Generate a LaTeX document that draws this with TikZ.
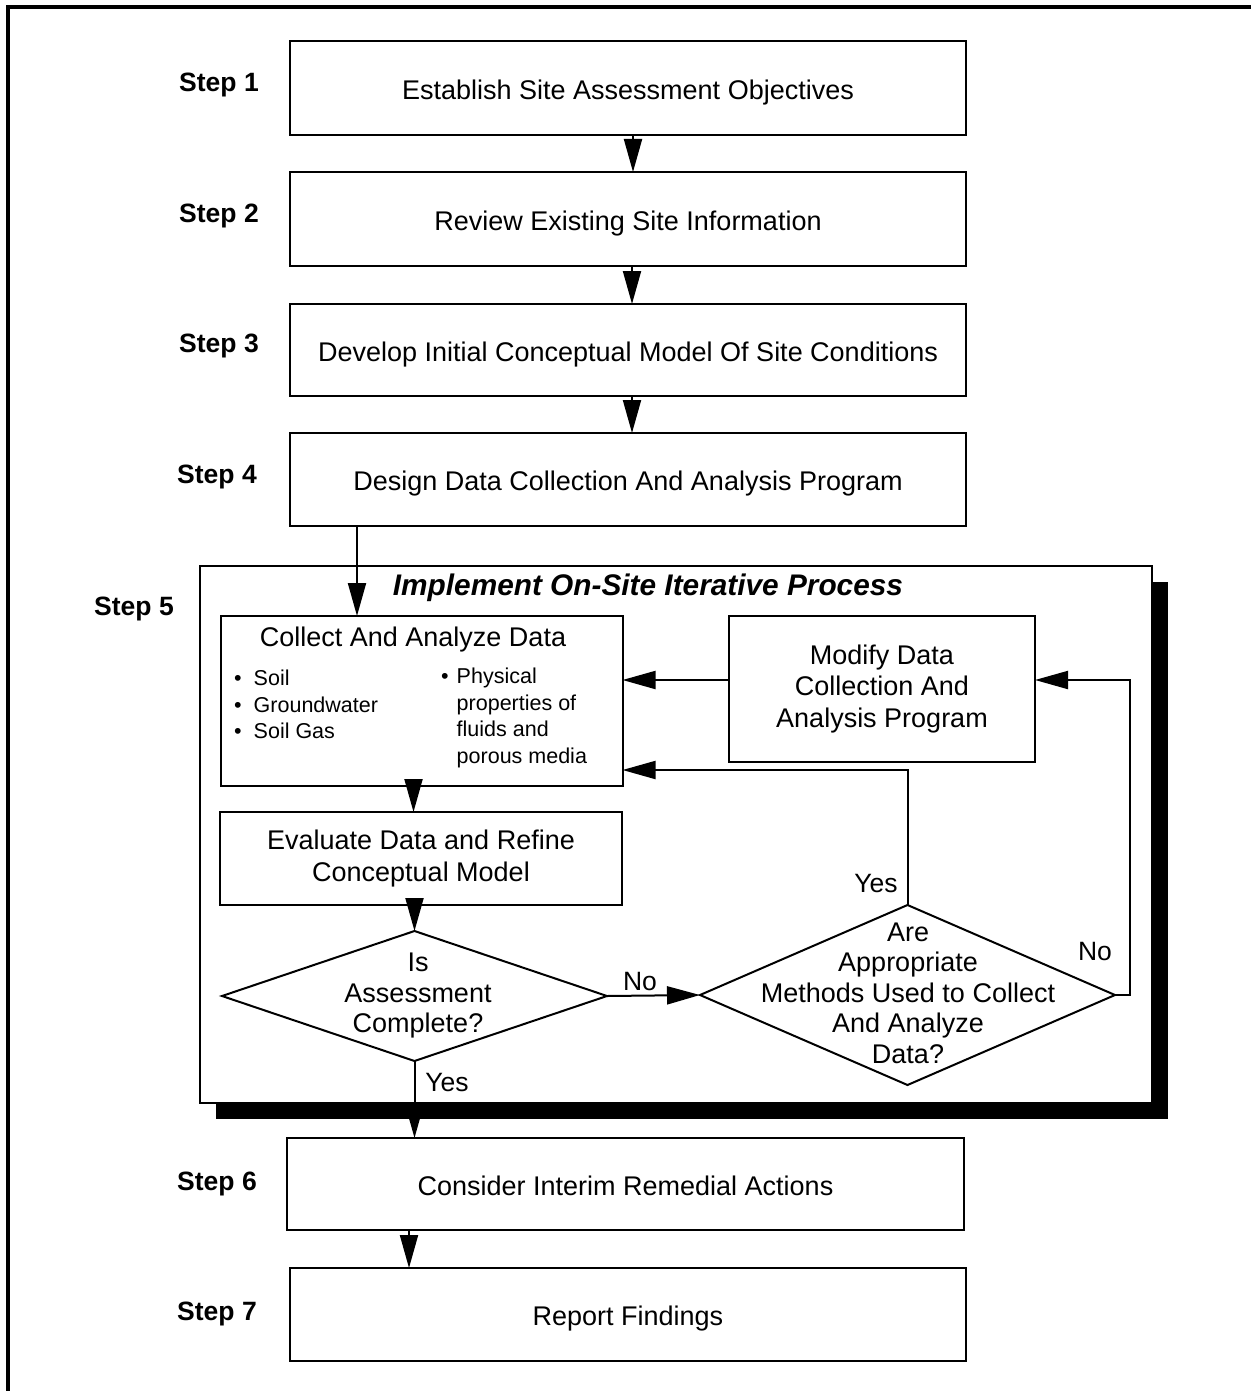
\documentclass[tikz,border=0pt]{standalone}
\usepackage{fontspec}
\setmainfont{Liberation Sans}
\usetikzlibrary{arrows.meta,shapes.geometric}
\begin{document}
\begin{tikzpicture}[x=1pt,y=-1pt,
 box/.style={draw, line width=2pt, inner sep=0pt, outer sep=0pt, align=center, font=\fontsize{27}{31.5}\selectfont},
 onebox/.style={box, text height=28pt, text depth=5.5pt},
 steplbl/.style={font=\bfseries\fontsize{26.5}{30}\selectfont, inner sep=0pt},
 lbl/.style={font=\fontsize{26.5}{30}\selectfont, inner sep=0pt},
 arr/.style={line width=2pt, -{Triangle[length=33pt,width=18pt]}},
 dia/.style={draw, diamond, line width=2pt, inner sep=0pt, outer sep=0pt},
 diatxt/.style={align=center, inner sep=0pt, font=\fontsize{27}{30.5}\selectfont},
 bullets/.style={anchor=north west, inner sep=0pt, font=\fontsize{21.5}{26.5}\selectfont}]
\useasboundingbox (0,0) rectangle (1251,1391);
% outer frame
\draw[line width=4pt] (8,1391) -- (8,7) -- (1251,7);
% step labels
\node[steplbl] (s1) at (219,85) {Step 1};
\node[steplbl] (s2) at (219,216) {Step 2};
\node[steplbl] (s3) at (219,346) {Step 3};
\node[steplbl] (s4) at (217,477) {Step 4};
\node[steplbl] (s5) at (134,609) {Step 5};
\node[steplbl] (s6) at (217,1184) {Step 6};
\node[steplbl] (s7) at (217,1314) {Step 7};
% main boxes
\node[onebox, minimum width=676pt, minimum height=94pt] (b1) at (628,88) {Establish Site Assessment Objectives};
\node[onebox, minimum width=676pt, minimum height=94pt] (b2) at (628,219) {Review Existing Site Information};
\node[onebox, minimum width=676pt, minimum height=92pt] (b3) at (628,350) {Develop Initial Conceptual Model Of Site Conditions};
\node[onebox, minimum width=676pt, minimum height=93pt] (b4) at (628,479.5) {Design Data Collection And Analysis Program};
\node[onebox, minimum width=677pt, minimum height=92pt] (b6) at (625.5,1184) {Consider Interim Remedial Actions};
\node[onebox, minimum width=676pt, minimum height=93pt] (b7) at (628,1314.5) {Report Findings};
% step 5 frame with shadow
\node[fill=black, inner sep=0pt, outer sep=0pt, minimum width=952pt, minimum height=537pt] (shadow) at (692,850.5) {};
\node[draw, fill=white, line width=2pt, inner sep=0pt, outer sep=0pt, minimum width=952pt, minimum height=537pt] (frame5) at (676,834.5) {};
\node[font=\bfseries\itshape\fontsize{29.8}{34}\selectfont, inner sep=0pt] (title5) at (648,588) {Implement On-Site Iterative Process};
% inner boxes
\node[box, minimum width=402pt, minimum height=170pt] (collect) at (421.5,701) {};
\node[lbl, font=\fontsize{27}{31}\selectfont] (collecthead) at (413,640) {Collect And Analyze Data};
\node[bullets] (bulL) at (234,667) {\begin{tabular}{@{}l@{\hspace{12pt}}l@{}}\textbullet & Soil\\ \textbullet & Groundwater\\ \textbullet & Soil Gas\end{tabular}};
\node[bullets] (bulR) at (441,665) {\begin{tabular}{@{}l@{\hspace{8pt}}l@{}}\textbullet & Physical\\ & properties of\\ & fluids and\\ & porous media\end{tabular}};
\node[box, minimum width=402pt, minimum height=93pt] (eval) at (421,858.5) {Evaluate Data and Refine\\Conceptual Model};
\node[box, minimum width=306pt, minimum height=146pt] (modify) at (882,689) {Modify Data\\Collection And\\Analysis Program};
\node[dia, minimum width=385pt, minimum height=130pt] (d1) at (414.5,996) {};
\node[diatxt] (d1t) at (418,996) {Is\\Assessment\\Complete?};
\node[dia, minimum width=415pt, minimum height=180pt] (d2) at (907.5,995) {};
\node[diatxt] (d2t) at (908,993) {Are\\Appropriate\\Methods Used to Collect\\And Analyze\\Data?};
% labels
\node[lbl] (no1) at (640,982) {No};
\node[lbl] (yes2) at (876,884) {Yes};
\node[lbl] (no2) at (1095,952) {No};
\node[lbl] (yes1) at (447,1082) {Yes};
% connectors
\draw[arr] ([xshift=5pt]b1.south) -- ([xshift=5pt]b2.north);
\draw[arr] ([xshift=4pt]b2.south) -- ([xshift=4pt]b3.north);
\draw[arr] ([xshift=4pt]b3.south) -- ([xshift=4pt]b4.north);
\draw[arr] ([xshift=67pt]b4.south west) -- ([xshift=67pt]b4.south west |- collect.north);
\draw[arr] ([xshift=-8pt]collect.south) -- ([xshift=-8pt]collect.south |- eval.north);
\draw[arr] (d1.north |- eval.south) -- (d1.north);
\draw[arr] (d1.east) -- (d2.west);
\draw[arr] (d2.north) |- ([yshift=16pt]collect.south east);
\draw[arr] (d2.east) -- ++(15,0) |- ([yshift=9pt]modify.east);
\draw[arr] ([yshift=9pt]modify.west) -- ([yshift=9pt]modify.west -| collect.east);
\draw[arr] (d1.south) -- (d1.south |- b6.north);
\draw[arr] ([xshift=122pt]b6.south west) -- ([xshift=122pt]b6.south west |- b7.north);
\end{tikzpicture}
\end{document}
